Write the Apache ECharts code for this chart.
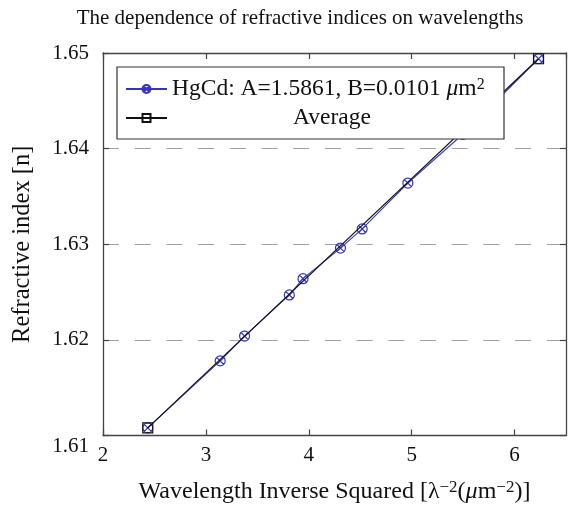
<!DOCTYPE html>
<html><head><meta charset="utf-8">
<script src="https://cdn.jsdelivr.net/npm/echarts@6/dist/echarts.min.js"></script>
<style>html,body{margin:0;padding:0;background:#fff}#c{width:585px;height:509px}</style>
</head><body><div id="c"></div>
<script>
// Data
const hgcdX = [2.435, 3.139, 3.376, 3.811, 3.944, 4.308, 4.519, 4.963, 5.496, 6.233];
const hgcdY = [1.6108, 1.6178, 1.6204, 1.6247, 1.6264, 1.6296, 1.6316, 1.6364, 1.6415, 1.6494];
const avgX = [2.435, 6.233];
const avgY = [1.6108, 1.6494];
const xTicks = [2, 3, 4, 5, 6];
const yTicks = [1.61, 1.62, 1.63, 1.64, 1.65];
const titleText = 'The dependence of refractive indices on wavelengths';
const seriesNames = ['HgCd', 'Average'];

const FONT = 'Liberation Serif';
const BLUE = '#3434c4';
const AX = '#444';
const circX = 'path://M10 5 A5 5 0 1 1 0 5 A5 5 0 1 1 10 5 Z M1.46 1.46 L8.54 8.54 M8.54 1.46 L1.46 8.54';
const sq = 'path://M0 0 L10 0 L10 10 L0 10 Z';

const chart = echarts.init(document.getElementById('c'), null, {renderer: 'canvas'});
const axisCommon = {
  axisLine: {show: true, onZero: false, lineStyle: {color: AX, width: 1.3}},
  axisTick: {show: true, inside: true, length: 6, lineStyle: {color: AX, width: 1.2}},
};
chart.setOption({
  animation: false,
  backgroundColor: '#fff',
  title: {
    text: titleText, left: 295, textAlign: 'center', top: 3,
    textStyle: {fontFamily: FONT, fontSize: 21, fontWeight: 'normal', color: '#111'}
  },
  grid: {left: 103, right: 19, top: 53, bottom: 72, containLabel: false},
  legend: {
    orient: 'vertical', left: 117, top: 67, z: 10,
    padding: [10, 12, 9, 8], itemGap: 5,
    itemWidth: 41, itemHeight: 10,
    backgroundColor: '#fff', borderColor: '#333', borderWidth: 1.2,
    data: seriesNames,
    formatter: function (n) {
      return n === 'HgCd'
        ? '{a|HgCd: A=1.5861, B=0.0101 }{i|μ}{a|m}{s|2}'
        : '{c|Average}';
    },
    textStyle: {
      fontFamily: FONT, fontSize: 23.5, color: '#111',
      rich: {
        a: {fontFamily: FONT, fontSize: 23.5, color: '#111', lineHeight: 24},
        i: {fontFamily: FONT, fontSize: 23.5, fontStyle: 'italic', color: '#111', lineHeight: 24},
        s: {fontFamily: FONT, fontSize: 16, color: '#111', verticalAlign: 'top', lineHeight: 24, padding: [0, 0, 8, 0]},
        c: {fontFamily: FONT, fontSize: 23.5, color: '#111', width: 320, align: 'center', lineHeight: 24}
      }
    }
  },
  xAxis: [
    Object.assign({
      type: 'value', position: 'bottom', min: 2, max: 6.5, interval: 1,
      axisLabel: {
        color: '#111', fontFamily: FONT, fontSize: 21, margin: 9, showMaxLabel: false,
        formatter: v => xTicks.includes(v) ? String(v) : ''
      },
      splitLine: {show: false},
      name: 'Wavelength Inverse Squared [λ{s|−2}({i|μ}m{s|−2})]',
      nameLocation: 'middle', nameGap: 44,
      nameTextStyle: {
        color: '#111', fontFamily: FONT, fontSize: 24,
        rich: {
          s: {fontFamily: FONT, fontSize: 17, color: '#111', verticalAlign: 'top', padding: [0, 0, 8, 0]},
          i: {fontFamily: FONT, fontSize: 24, fontStyle: 'italic', color: '#111'}
        }
      }
    }, axisCommon),
    Object.assign({
      type: 'value', position: 'top', min: 2, max: 6.5, interval: 1,
      axisLabel: {show: false}, splitLine: {show: false}
    }, axisCommon)
  ],
  yAxis: [
    Object.assign({
      type: 'value', position: 'left', min: 1.61, max: 1.65, interval: 0.01,
      axisLabel: {
        color: '#111', fontFamily: FONT, fontSize: 21, margin: 14,
        formatter: v => {
          const s = v.toFixed(2);
          return Math.abs(v - 1.61) < 1e-9 ? '{lo|' + s + '}' : s;
        },
        rich: {lo: {fontFamily: FONT, fontSize: 21, color: '#111', padding: [22, 0, 0, 0]}}
      },
      splitLine: {show: true, lineStyle: {color: '#a0a0a0', type: [16, 15.7], width: 1.2}},
      name: 'Refractive index [n]', nameLocation: 'middle', nameGap: 68,
      nameTextStyle: {color: '#111', fontFamily: FONT, fontSize: 24.5}
    }, axisCommon),
    Object.assign({
      type: 'value', position: 'right', min: 1.61, max: 1.65, interval: 0.01,
      axisLabel: {show: false}, splitLine: {show: false}
    }, axisCommon)
  ],
  series: [
    {
      name: 'HgCd', type: 'line', xAxisIndex: 0, yAxisIndex: 0,
      data: hgcdX.map((x, i) => [x, hgcdY[i]]),
      symbol: circX, symbolSize: 10, showAllSymbol: true,
      lineStyle: {color: BLUE, width: 1.1},
      itemStyle: {color: 'none', borderColor: BLUE, borderWidth: 1.2},
      emphasis: {disabled: true}, z: 2
    },
    {
      name: 'Average', type: 'line', xAxisIndex: 0, yAxisIndex: 0,
      data: avgX.map((x, i) => [x, avgY[i]]),
      symbol: sq, symbolSize: 10,
      lineStyle: {color: '#111', width: 1.1},
      itemStyle: {color: 'none', borderColor: '#111', borderWidth: 1.2},
      emphasis: {disabled: true}, z: 3
    }
  ]
});
</script></body></html>
